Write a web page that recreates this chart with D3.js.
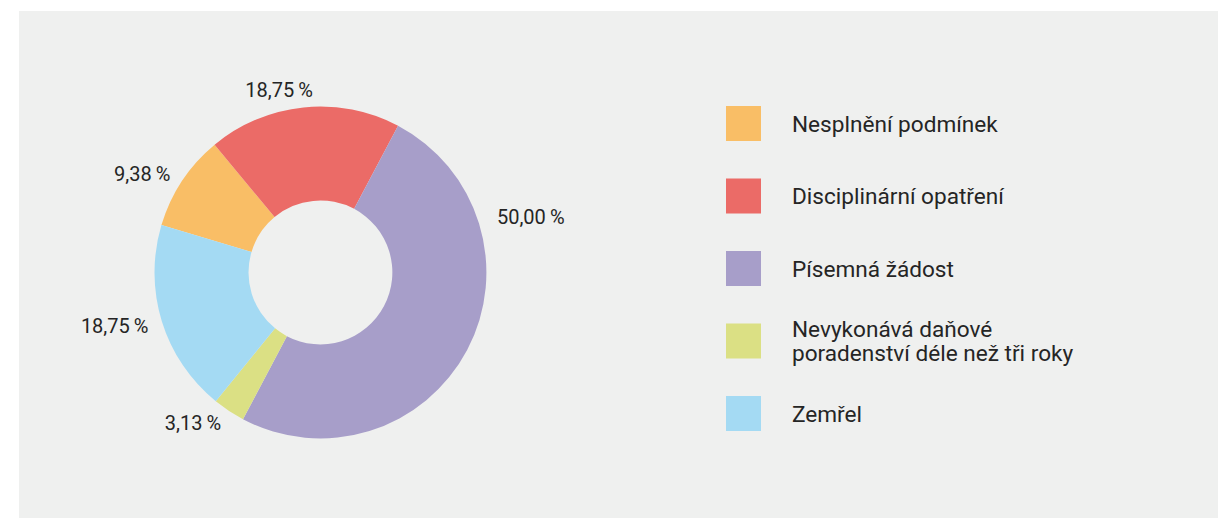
<!DOCTYPE html>
<html>
<head>
<meta charset="utf-8">
<script src="https://cdn.jsdelivr.net/npm/d3@7.9.0/dist/d3.min.js"></script>
<style>
  html, body { margin: 0; padding: 0; background: #fff; }
  svg { display: block; font-family: Roboto, "Noto Sans", sans-serif; }
</style>
</head>
<body>
<svg id="chart" width="1218" height="518"></svg>
<script>
// data
const categories = [
  "Nesplnění podmínek",
  "Disciplinární opatření",
  "Písemná žádost",
  "Nevykonává daňové poradenství déle než tři roky",
  "Zemřel"
];
const shares = [9.38, 18.75, 50.00, 3.13, 18.75];
const colours = ["#f9be66", "#eb6b67", "#a79ec9", "#dbe084", "#a4daf3"];
// legend wraps the long one onto two lines
const legendLines = [
  ["Nesplnění podmínek"],
  ["Disciplinární opatření"],
  ["Písemná žádost"],
  ["Nevykonává daňové", "poradenství déle než tři roky"],
  ["Zemřel"]
];

const svg = d3.select('#chart');
const W = 1218, H = 518;

svg.append('rect')
  .attr('x', 19).attr('y', 11)
  .attr('width', W - 19).attr('height', H - 11)
  .attr('fill', '#eff0ef');

const cx = 320.5, cy = 272.5;
const outerR = 166, innerR = 72, labelR = 180;
const deg = Math.PI / 180;
const start = -73.4 * deg;

const rows = categories.map((c, i) => ({ cat: c, value: shares[i], colour: colours[i] }));

let pie = d3.pie().sort(null).value(d => d.value)
  .startAngle(start).endAngle(start + 2 * Math.PI);
let arcs = pie(rows);
let arcGen = d3.arc().innerRadius(innerR).outerRadius(outerR);

const g = svg.append('g').attr('transform', `translate(${cx},${cy})`);

g.selectAll('path')
  .data(arcs)
  .join('path')
  .attr('d', arcGen)
  .attr('fill', d => d.data.colour);

// a couple of labels sit away from the slice middle in the original
const labelNudge = {
  "Disciplinární opatření": { angle: -12.7, r: 188 },
  "Písemná žádost": { angle: 72.5, r: 185 }
};

let fmt = d3.format('.2f');

arcs.forEach(a => {
  let nudge = labelNudge[a.data.cat];
  let ang = nudge ? nudge.angle * deg : (a.startAngle + a.endAngle) / 2;
  let r = nudge ? nudge.r : labelR;
  let x = r * Math.sin(ang), y = -r * Math.cos(ang);
  let s = Math.sin(ang);
  let anchor = s > 0.3 ? 'start' : s < -0.3 ? 'end' : 'middle';
  g.append('text')
    .attr('x', x).attr('y', y + 7.5)
    .attr('text-anchor', anchor)
    .attr('font-size', 20)
    .attr('fill', '#252525')
    .text(fmt(a.data.value).replace('.', ',') + '\u2009%');
});

// legend
const legY = d3.scalePoint().domain(d3.range(categories.length)).range([123.5, 413.5]);
const legend = svg.append('g');
rows.forEach((d, i) => {
  let y = legY(i);
  legend.append('rect')
    .attr('x', 726).attr('y', y - 17.5)
    .attr('width', 35).attr('height', 35)
    .attr('fill', d.colour);
  let lines = legendLines[i];
  let t = legend.append('text')
    .attr('font-size', 22.6)
    .attr('fill', '#252525');
  lines.forEach((ln, k) => {
    t.append('tspan')
      .attr('x', 792)
      .attr('y', y + 8 + (k - (lines.length - 1) / 2) * 24)
      .text(ln);
  });
});
</script>
</body>
</html>
